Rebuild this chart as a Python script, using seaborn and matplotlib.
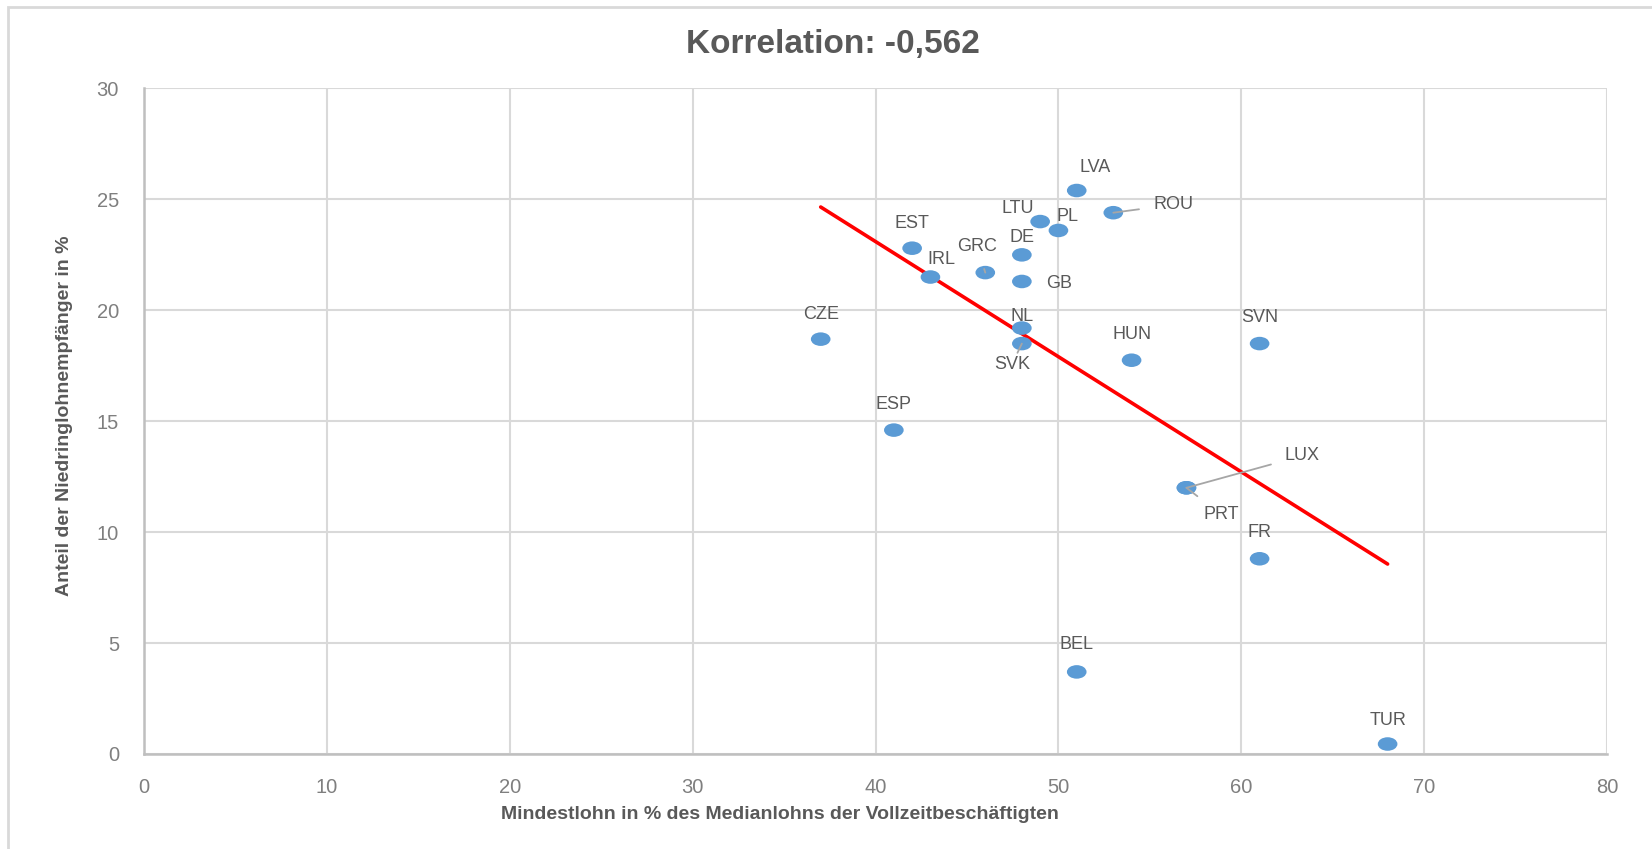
import matplotlib
matplotlib.use('Agg')
import matplotlib.pyplot as plt
from matplotlib.path import Path
from matplotlib.transforms import Affine2D
from matplotlib.patches import Rectangle
import pandas as pd
import seaborn as sns

COUNTRIES = ["LVA", "ROU", "LTU", "PL", "EST", "DE", "GRC", "IRL", "GB", "CZE",
             "NL", "SVK", "SVN", "HUN", "ESP", "LUX", "PRT", "FR", "BEL", "TUR"]
MIN_WAGE = [51, 53, 49, 50, 42, 48, 46, 43, 48, 37,
            48, 48, 61, 54, 41, 57, 57, 61, 51, 68]
LOW_PAY = [25.4, 24.4, 24.0, 23.6, 22.8, 22.5, 21.7, 21.5, 21.3, 18.7,
           19.2, 18.5, 18.5, 17.75, 14.6, 12.0, 12.0, 8.8, 3.7, 0.45]

X_TICKS = [0, 10, 20, 30, 40, 50, 60, 70, 80]
Y_TICKS = [0, 5, 10, 15, 20, 25, 30]

TITLE = "Korrelation: -0,562"
XLABEL = "Mindestlohn in % des Medianlohns der Vollzeitbeschäftigten"
YLABEL = "Anteil der Niedringlohnempfänger in %"

# label offsets in pixels (dx right, dy up), plus whether a leader line is drawn
OFFSETS = {
    "LVA": (18, 23, False), "ROU": (60, 8, True), "LTU": (-22, 13, False),
    "PL": (9, 14, False), "EST": (0, 25, False), "DE": (0, 17, False),
    "GRC": (-8, 26, True), "IRL": (11, 18, False), "GB": (37, -2, False),
    "CZE": (0, 25, False), "NL": (0, 12, False), "SVK": (-10, -21, True),
    "SVN": (0, 26, False), "HUN": (0, 26, False), "ESP": (0, 26, False),
    "LUX": (116, 32, True), "PRT": (35, -27, True), "FR": (0, 26, False),
    "BEL": (0, 27, False), "TUR": (0, 24, False),
}

df = pd.DataFrame({"land": COUNTRIES, "mindestlohn": MIN_WAGE, "niedriglohn": LOW_PAY})

sns.set_theme(style="white")
plt.rcParams['font.family'] = ['Liberation Sans', 'DejaVu Sans']

GRID = "#d9d9d9"
TXT = "#595959"
BLUE = "#5b9bd5"

fig = plt.figure(figsize=(16.52, 8.49), dpi=100)
ax = fig.add_axes([0.0872, 0.1119, 0.8856, 0.7839])

# ellipse marker, a bit wider than tall
ell = Affine2D().scale(1.45, 1.0).transform_path(Path.unit_circle())

sns.regplot(data=df, x="mindestlohn", y="niedriglohn", scatter=False, ci=None,
            truncate=True, color="#ff0000", line_kws={"linewidth": 2.6}, ax=ax)
sns.scatterplot(data=df, x="mindestlohn", y="niedriglohn", marker=ell, s=200,
                color=BLUE, edgecolor="none", ax=ax, zorder=4)

for land, x, y in zip(COUNTRIES, MIN_WAGE, LOW_PAY):
    dx, dy, leader = OFFSETS[land]
    kw = {}
    if leader:
        kw["arrowprops"] = dict(arrowstyle="-", color="#a6a6a6", lw=1.3,
                                shrinkA=8, shrinkB=0)
    ax.annotate(land, (x, y), xytext=(dx * 0.72, dy * 0.72), textcoords="offset points",
                ha="center", va="center", fontsize=13, color=TXT, zorder=5, **kw)

ax.set_xlim(0, 80)
ax.set_ylim(0, 30)
ax.set_xticks(X_TICKS)
ax.set_yticks(Y_TICKS)
ax.grid(True, color=GRID, linewidth=1.5)
ax.set_axisbelow(True)
for side in ["top", "right"]:
    ax.spines[side].set_visible(False)
for side in ["left", "bottom"]:
    ax.spines[side].set_color("#bfbfbf")
    ax.spines[side].set_linewidth(1.8)
ax.tick_params(axis="both", length=0, labelsize=14.5, labelcolor="#7f7f7f")
ax.tick_params(axis="x", pad=17)
ax.tick_params(axis="y", pad=18)
ax.set_xlabel("")
ax.set_ylabel("")

fig.text(0.504, 0.948, TITLE, ha="center", va="center", fontsize=24,
         fontweight="bold", color=TXT)
fig.text(0.472, 0.041, XLABEL, ha="center", va="center", fontsize=14,
         fontweight="bold", color=TXT)
fig.text(0.039, 0.51, YLABEL, ha="center", va="center", rotation=90,
         fontsize=14, fontweight="bold", color=TXT,
         family=['Liberation Sans Narrow', 'Liberation Sans', 'DejaVu Sans'])

# chart area border (cut off at right and bottom)
fig.patches.append(Rectangle((8 / 1652, -0.1), 1.2, 1.1 - 7 / 849, transform=fig.transFigure,
                             fill=False, edgecolor=GRID, linewidth=2))

fig.savefig("out.png", dpi=100)
